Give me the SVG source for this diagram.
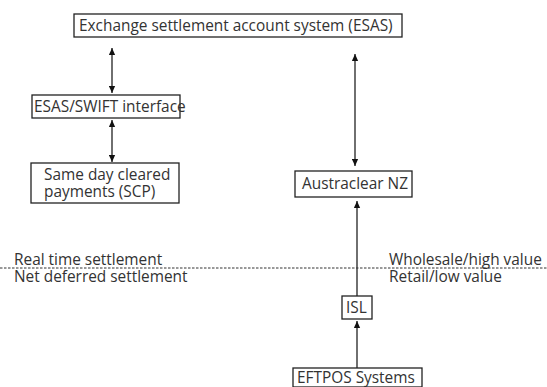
<svg xmlns="http://www.w3.org/2000/svg" width="547" height="387" viewBox="0 0 547 387">
<defs>
<marker id="ah" viewBox="0 0 10 10" refX="10" refY="5" markerWidth="9" markerHeight="7" markerUnits="userSpaceOnUse" orient="auto-start-reverse">
<path d="M0,0.5 L10,5 L0,9.5 Z" fill="#111"/>
</marker>
<style>
.box{fill:#fff;stroke:#222;stroke-width:1.3}
.t{font-family:"Open Sans","Noto Sans","Liberation Sans",sans-serif;font-size:15.4px;fill:#333}
.c{stroke:#222;stroke-width:1.3;fill:none}
.d{stroke:#333;stroke-width:1;stroke-dasharray:2.5,1.5}
</style>
</defs>
<rect width="547" height="387" fill="#fff"/>
<g id="connectors">
<line class="c" x1="112" y1="48" x2="112" y2="93" marker-start="url(#ah)" marker-end="url(#ah)"/>
<line class="c" x1="112" y1="120" x2="112" y2="162" marker-start="url(#ah)" marker-end="url(#ah)"/>
<line class="c" x1="355" y1="54" x2="355" y2="166" marker-start="url(#ah)" marker-end="url(#ah)"/>
<line class="c" x1="357" y1="296" x2="357" y2="201" marker-end="url(#ah)"/>
<line class="c" x1="357" y1="368" x2="357" y2="321" marker-end="url(#ah)"/>
</g>
<g id="divider">
<line class="d" x1="0" y1="268" x2="547" y2="268"/>
<text class="t" x="14" y="265">Real time settlement</text>
<text class="t" x="14" y="282">Net deferred settlement</text>
<text class="t" x="389" y="265">Wholesale/high value</text>
<text class="t" x="389" y="282">Retail/low value</text>
</g>
<g id="esas">
<rect class="box" x="74" y="14" width="328" height="23"/>
<text class="t" x="79" y="31">Exchange settlement account system (ESAS)</text>
</g>
<g id="swift">
<rect class="box" x="32" y="95" width="148" height="23"/>
<text class="t" x="34" y="112">ESAS/SWIFT interface</text>
</g>
<g id="scp">
<rect class="box" x="31" y="163" width="148" height="40"/>
<text class="t" x="44" y="180">Same day cleared</text>
<text class="t" x="44" y="197">payments (SCP)</text>
</g>
<g id="austraclear">
<rect class="box" x="295" y="171" width="117" height="26"/>
<text class="t" x="302" y="189">Austraclear NZ</text>
</g>
<g id="isl">
<rect class="box" x="342" y="296" width="30" height="23"/>
<text class="t" x="346" y="313">ISL</text>
</g>
<g id="eftpos">
<rect class="box" x="293" y="368" width="129" height="19"/>
<text class="t" x="297" y="383">EFTPOS Systems</text>
</g>
</svg>
